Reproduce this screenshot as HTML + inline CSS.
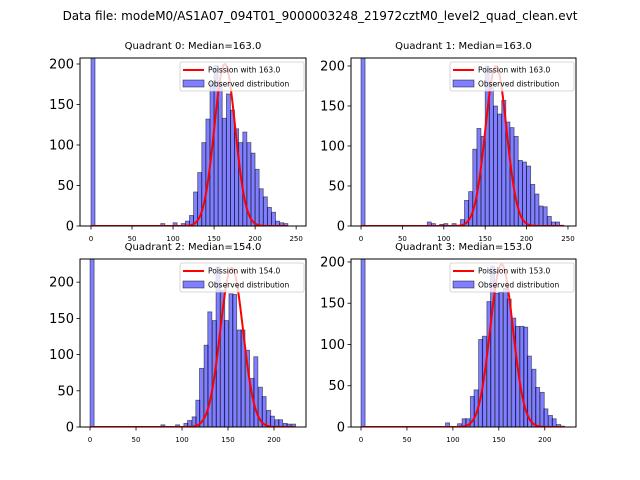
<!DOCTYPE html>
<html><head><meta charset="utf-8">
<style>
html,body{margin:0;padding:0;background:#fff;}
svg{display:block;font-family:"DejaVu Sans","Liberation Sans",sans-serif;}
</style></head>
<body>
<svg id="fig" width="640" height="480" viewBox="0 0 640 480" xmlns="http://www.w3.org/2000/svg">
<rect width="640" height="480" fill="#fff"/>
<text x="320" y="20" font-size="12" text-anchor="middle">Data file: modeM0/AS1A07_094T01_9000003248_21972cztM0_level2_quad_clean.evt</text>
</svg>
<script>
// ---- data ----
const q0Bins = [0,85,100,110,115,120,125,130,135,140,145,150,155,160,165,170,175,180,185,190,195,200,205,210,215,220,225,230,235];
const q0Counts = [260,3,4,3,6,13,42,66,103,132,178,198,178,133,163,143,120,103,116,103,90,70,46,36,23,17,6,4,3];
const q1Bins = [0,80,85,95,100,110,120,125,130,135,140,145,150,155,160,165,170,175,180,185,190,195,200,205,210,215,220,225,230,235,240];
const q1Counts = [260,5,3,2,3,3,8,32,43,96,122,112,200,180,150,140,157,130,123,112,82,80,75,52,40,25,24,12,5,5,1];
const q2Bins = [0,77,93,102,106,111,115,119,124,128,133,137,142,146,151,155,160,164,169,174,178,183,187,192,196,201,205,210,214,219];
const q2Counts = [260,3,3,5,9,14,37,81,113,159,147,221,189,147,184,183,134,134,106,67,97,55,42,23,15,10,10,5,4,4];
const q3Bins = [0,92,105,110,114,119,123,128,132,137,141,146,150,155,159,164,168,173,177,181,186,190,195,199,204,208,213,217];
const q3Counts = [260,5,4,10,10,37,45,106,110,152,195,162,163,168,155,132,122,122,121,86,70,48,42,22,14,10,3,1];
const medians = [163.0,163.0,154.0,153.0];
const curvePeaks = [200,200,220,197];
const curveEnds = [240,245,222,222];
const yTicks = [0,50,100,150,200];
const xTicksA = [0,50,100,150,200,250];
const xTicksB = [0,50,100,150,200];

// ---- layout (not data) ----
const panels = [
 {bins:q0Bins,counts:q0Counts,bw:4.9,x0:80,x1:306,y0:58,y1:226,xmin:-13.4,xmax:262,ymax:207.4,xt:xTicksA},
 {bins:q1Bins,counts:q1Counts,bw:4.9,x0:351,x1:576,y0:58,y1:226,xmin:-12.1,xmax:259.7,ymax:210,xt:xTicksA},
 {bins:q2Bins,counts:q2Counts,bw:4.45,x0:80,x1:306,y0:259,y1:427,xmin:-10.9,xmax:234.8,ymax:232,xt:xTicksB},
 {bins:q3Bins,counts:q3Counts,bw:4.45,x0:351,x1:576,y0:259,y1:427,xmin:-10.9,xmax:234,ymax:203.6,xt:xTicksB}
];
const NS="http://www.w3.org/2000/svg";
const svg=document.getElementById('fig');
function mk(tag,attrs,parent){const e=document.createElementNS(NS,tag);for(const k in attrs)e.setAttribute(k,attrs[k]);(parent||svg).appendChild(e);return e;}

panels.forEach((p,i)=>{
  const sx=v=>p.x0+(v-p.xmin)/(p.xmax-p.xmin)*(p.x1-p.x0);
  const sy=v=>p.y1-v/p.ymax*(p.y1-p.y0);
  const g=mk('g',{});
  
  
  const cp=mk('clipPath',{id:'clip'+i},g);
  mk('rect',{x:p.x0,y:p.y0,width:p.x1-p.x0,height:p.y1-p.y0},cp);
  const title=mk('text',{x:(p.x0+p.x1)/2,y:p.y0-9,'font-size':10,'text-anchor':'middle'},g);
  title.textContent='Quadrant '+i+': Median='+medians[i].toFixed(1);
  
  
  const bg=mk('g',{'clip-path':'url(#clip'+i+')'},g);
  p.bins.forEach((b,j)=>{
    const r=mk('rect',{x:sx(b),y:sy(p.counts[j]),width:sx(b+p.bw)-sx(b),height:sy(0)-sy(p.counts[j]),fill:'rgba(0,0,255,0.5)',stroke:'rgba(0,0,0,0.55)','stroke-width':0.8},bg);
    
    
  });
  // Poisson curve (gaussian approx scaled to peak)
  const mu=medians[i];let d='';
  for(let v=0;v<=curveEnds[i];v+=0.5){
    const y=curvePeaks[i]*Math.exp(-(v-mu)*(v-mu)/(2*mu));
    d+=(v===0?'M':'L')+sx(v).toFixed(2)+','+sy(y).toFixed(2);
  }
  const c=mk('path',{d:d,fill:'none',stroke:'#ff0000','stroke-width':2},bg);
  
  
  const frame=mk('rect',{x:p.x0,y:p.y0,width:p.x1-p.x0,height:p.y1-p.y0,fill:'none',stroke:'#000','stroke-width':1},g);
  
  
  yTicks.forEach(t=>{
    if(t>p.ymax)return;
    mk('line',{x1:p.x0-3.5,x2:p.x0,y1:sy(t),y2:sy(t),stroke:'#000','stroke-width':0.8},g);
    const tx=mk('text',{x:p.x0-6,y:sy(t)+4.5,'font-size':13,'text-anchor':'end'},g);
    tx.textContent=t;
    
    
  });
  p.xt.forEach(t=>{
    mk('line',{x1:sx(t),x2:sx(t),y1:p.y1,y2:p.y1+3.5,stroke:'#000','stroke-width':0.8},g);
    const tx=mk('text',{x:sx(t),y:p.y1+15,'font-size':7,'text-anchor':'middle'},g);
    tx.textContent=t;
    
    
  });
  // legend
  const lx=p.x1-126,ly=p.y0+4;
  const lg=mk('g',{},g);
  
  
  mk('rect',{x:lx,y:ly,width:124,height:29,fill:'rgba(255,255,255,0.8)',stroke:'#ccc','stroke-width':0.8,rx:2},lg);
  mk('line',{x1:lx+3,x2:lx+24,y1:ly+8,y2:ly+8,stroke:'#ff0000','stroke-width':2},lg);
  const t1=mk('text',{x:lx+28,y:ly+10.5,'font-size':7.5},lg);
  t1.textContent='Poission with '+medians[i].toFixed(1);
  
  
  mk('rect',{x:lx+3,y:ly+18,width:21,height:7,fill:'rgba(0,0,255,0.5)',stroke:'rgba(0,0,0,0.55)','stroke-width':0.8},lg);
  const t2=mk('text',{x:lx+28,y:ly+24.5,'font-size':7.5},lg);
  t2.textContent='Observed distribution';
  
  
});
</script>
</body></html>
